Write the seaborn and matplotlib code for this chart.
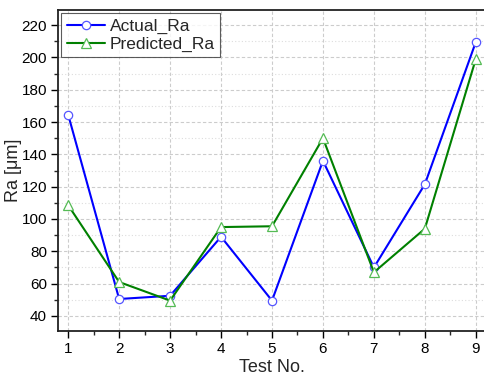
import seaborn as sns
import matplotlib.pyplot as plt
import pandas as pd
from matplotlib.ticker import MultipleLocator

test_no = [1, 2, 3, 4, 5, 6, 7, 8, 9]
actual_ra = [164.5, 50.5, 52.5, 89, 49.5, 136, 70, 121.5, 209.5]
predicted_ra = [108.5, 61, 49.5, 95, 95.5, 150, 67, 94, 199]

df = pd.DataFrame({"Test No.": test_no, "Actual_Ra": actual_ra, "Predicted_Ra": predicted_ra})

sns.set_style("ticks")
plt.rcParams["font.family"] = ["Liberation Sans", "DejaVu Sans"]

fig = plt.figure(figsize=(4.84, 3.77), dpi=100)
ax = fig.add_axes([58 / 484, 1 - 331 / 377, 428 / 484, 321 / 377])

sns.lineplot(data=df, x="Test No.", y="Actual_Ra", ax=ax, color="#0000ff", lw=1.5,
             marker="o", markersize=6, markerfacecolor="white", markeredgecolor="#5555ff",
             markeredgewidth=0.9, label="Actual_Ra", zorder=3)
sns.lineplot(data=df, x="Test No.", y="Predicted_Ra", ax=ax, color="#008000", lw=1.5,
             marker="^", markersize=7, markerfacecolor="white", markeredgecolor="#55bb55",
             markeredgewidth=0.9, label="Predicted_Ra", zorder=3)

ax.set_xlim(0.8, 9.2)
ax.set_ylim(30.7, 229.3)
ax.xaxis.set_major_locator(MultipleLocator(1))
ax.xaxis.set_minor_locator(MultipleLocator(0.5))
ax.yaxis.set_major_locator(MultipleLocator(20))
ax.yaxis.set_minor_locator(MultipleLocator(10))
ax.grid(which="major", color="#cccccc", linestyle=(0, (3, 2)), lw=0.8)
ax.grid(which="minor", axis="y", color="#dddddd", linestyle=(0, (1, 2)), lw=0.8)
ax.set_axisbelow(True)

ax.tick_params(which="major", direction="out", length=5, width=1, labelsize=11, colors="black", pad=3)
ax.tick_params(which="minor", direction="out", length=3, width=1)
for s in ["left", "bottom", "top", "right"]:
    ax.spines[s].set_linewidth(1.3)
    ax.spines[s].set_color("#222222")

ax.set_xlabel("Test No.", fontsize=13)
ax.set_ylabel("Ra [μm]", fontsize=13)
ax.yaxis.set_label_coords(-0.085, 0.5)
ax.xaxis.set_label_coords(0.5, -0.088)

leg = ax.legend(loc="upper left", fontsize=12.5, frameon=True, fancybox=False,
                borderaxespad=0.2, handlelength=2.2, borderpad=0.3, labelspacing=0.15,
                handletextpad=0.3)
leg.get_frame().set_edgecolor("#333333")
leg.get_frame().set_linewidth(0.8)

fig.savefig("out.png", dpi=100)
